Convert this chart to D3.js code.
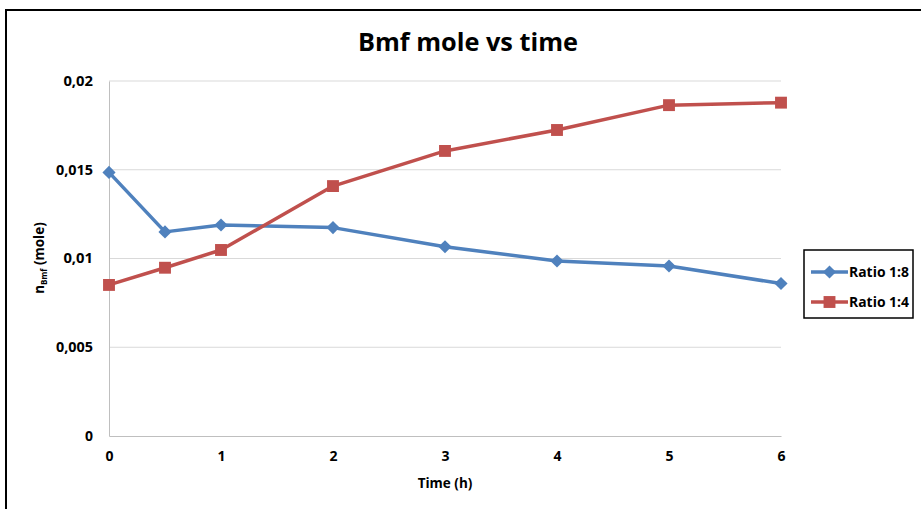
<!DOCTYPE html>
<html>
<head>
<meta charset="utf-8">
<script src="https://cdn.jsdelivr.net/npm/d3@7"></script>
<style>
  html, body { margin: 0; padding: 0; background: #fff; }
  svg { display: block; font-family: "Open Sans", "Liberation Sans", sans-serif; }
</style>
</head>
<body>
<svg id="chart" width="921" height="509"></svg>
<script>
// Sampling times (h)
const times = [0, 0.5, 1, 2, 3, 4, 5, 6];
// Moles of Bmf for each ratio
const ratio18 = [0.01485, 0.01150, 0.01189, 0.01174, 0.01066, 0.00986, 0.00958, 0.00859];
const ratio14 = [0.00851, 0.00948, 0.01048, 0.01408, 0.01606, 0.01724, 0.01864, 0.01878];
const seriesNames = ["Ratio 1:8", "Ratio 1:4"];
const seriesColors = ["#4F81BD", "#C0504D"];
const xTicks = [0, 1, 2, 3, 4, 5, 6];
const yTicks = [0, 0.005, 0.01, 0.015, 0.02];

const svg = d3.select("#chart");

// Outer frame
svg.append("path")
  .attr("d", "M6,509 L6,10 L921,10")
  .attr("fill", "none").attr("stroke", "#000").attr("stroke-width", 2);

const x = d3.scaleLinear().domain([0, 6]).range([109, 781]);
const y = d3.scaleLinear().domain([0, 0.02]).range([436, 81]);

const fmt = d => d === 0 ? "0" : d3.format("")(d).replace(".", ",");

// Horizontal gridlines
svg.append("g")
  .selectAll("line").data(yTicks.filter(d => d > 0)).join("line")
  .attr("x1", x(0)).attr("x2", x(6))
  .attr("y1", d => y(d)).attr("y2", d => y(d))
  .attr("stroke", "#d9d9d9").attr("stroke-width", 1);

// Axes
const yAxis = svg.append("g")
  .attr("transform", `translate(${x(0)},0)`)
  .call(d3.axisLeft(y).tickValues(yTicks).tickFormat(fmt).tickSize(0).tickPadding(16));
const xAxis = svg.append("g")
  .attr("transform", `translate(0,${y(0)})`)
  .call(d3.axisBottom(x).tickValues(xTicks).tickFormat(d3.format("d")).tickSize(0).tickPadding(15));
[yAxis, xAxis].forEach(a => {
  a.select(".domain").attr("stroke", "#bfbfbf").attr("stroke-width", 1);
  a.selectAll("text").attr("font-size", 14).attr("font-weight", "bold").attr("fill", "#000")
    .attr("font-family", "'Open Sans', sans-serif");
});
yAxis.selectAll("text").attr("textLength", function () {
  return this.textContent.length > 1 ? this.textContent.length * 7.4 : null;
}).attr("lengthAdjust", "spacingAndGlyphs");

// Series lines and markers
const data = [ratio18, ratio14];
const line = d3.line().x((d, i) => x(times[i])).y(d => y(d));
data.forEach((vals, s) => {
  svg.append("path").datum(vals)
    .attr("d", line).attr("fill", "none")
    .attr("stroke", seriesColors[s]).attr("stroke-width", 3.5)
    .attr("stroke-linejoin", "round");
});
const diamond = d3.symbol().type(d3.symbolDiamond2).size(110);
const square = d3.symbol().type(d3.symbolSquare2).size(180);
svg.append("g").selectAll("path").data(ratio18).join("path")
  .attr("transform", (d, i) => `translate(${x(times[i])},${y(d)})`)
  .attr("d", diamond).attr("fill", seriesColors[0]);
svg.append("g").selectAll("path").data(ratio14).join("path")
  .attr("transform", (d, i) => `translate(${x(times[i])},${y(d)})`)
  .attr("d", square).attr("fill", seriesColors[1]);

// Title
svg.append("text")
  .attr("x", 468).attr("y", 51).attr("text-anchor", "middle")
  .attr("font-size", 25).attr("font-weight", "bold")
  .attr("textLength", 220).attr("lengthAdjust", "spacingAndGlyphs")
  .text("Bmf mole vs time");

// Axis titles
svg.append("text")
  .attr("x", x(3)).attr("y", 488).attr("text-anchor", "middle")
  .attr("font-size", 13.5).attr("font-weight", "bold")
  .text("Time (h)");

const yt = svg.append("text")
  .attr("transform", "translate(44,258) rotate(-90)")
  .attr("text-anchor", "middle")
  .attr("font-size", 13.5).attr("font-weight", "bold");
yt.append("tspan").text("n");
yt.append("tspan").attr("font-size", 8).attr("dy", 3).text("Bmf");
yt.append("tspan").attr("dy", -3).text(" (mole)");

// Legend
const lg = svg.append("g");
lg.append("rect")
  .attr("x", 804).attr("y", 250).attr("width", 109).attr("height", 68)
  .attr("fill", "#fff").attr("stroke", "#000").attr("stroke-width", 1.5);
seriesNames.forEach((name, i) => {
  const cy = 272 + i * 30;
  lg.append("line")
    .attr("x1", 811).attr("x2", 848).attr("y1", cy).attr("y2", cy)
    .attr("stroke", seriesColors[i]).attr("stroke-width", 3.5);
  lg.append("path")
    .attr("transform", `translate(829.5,${cy})`)
    .attr("d", i === 0 ? diamond : square)
    .attr("fill", seriesColors[i]);
  lg.append("text")
    .attr("x", 849).attr("y", cy + 5)
    .attr("font-size", 13.5).attr("font-weight", "bold")
    .attr("textLength", 60).attr("lengthAdjust", "spacingAndGlyphs")
    .text(name);
});
</script>
</body>
</html>
